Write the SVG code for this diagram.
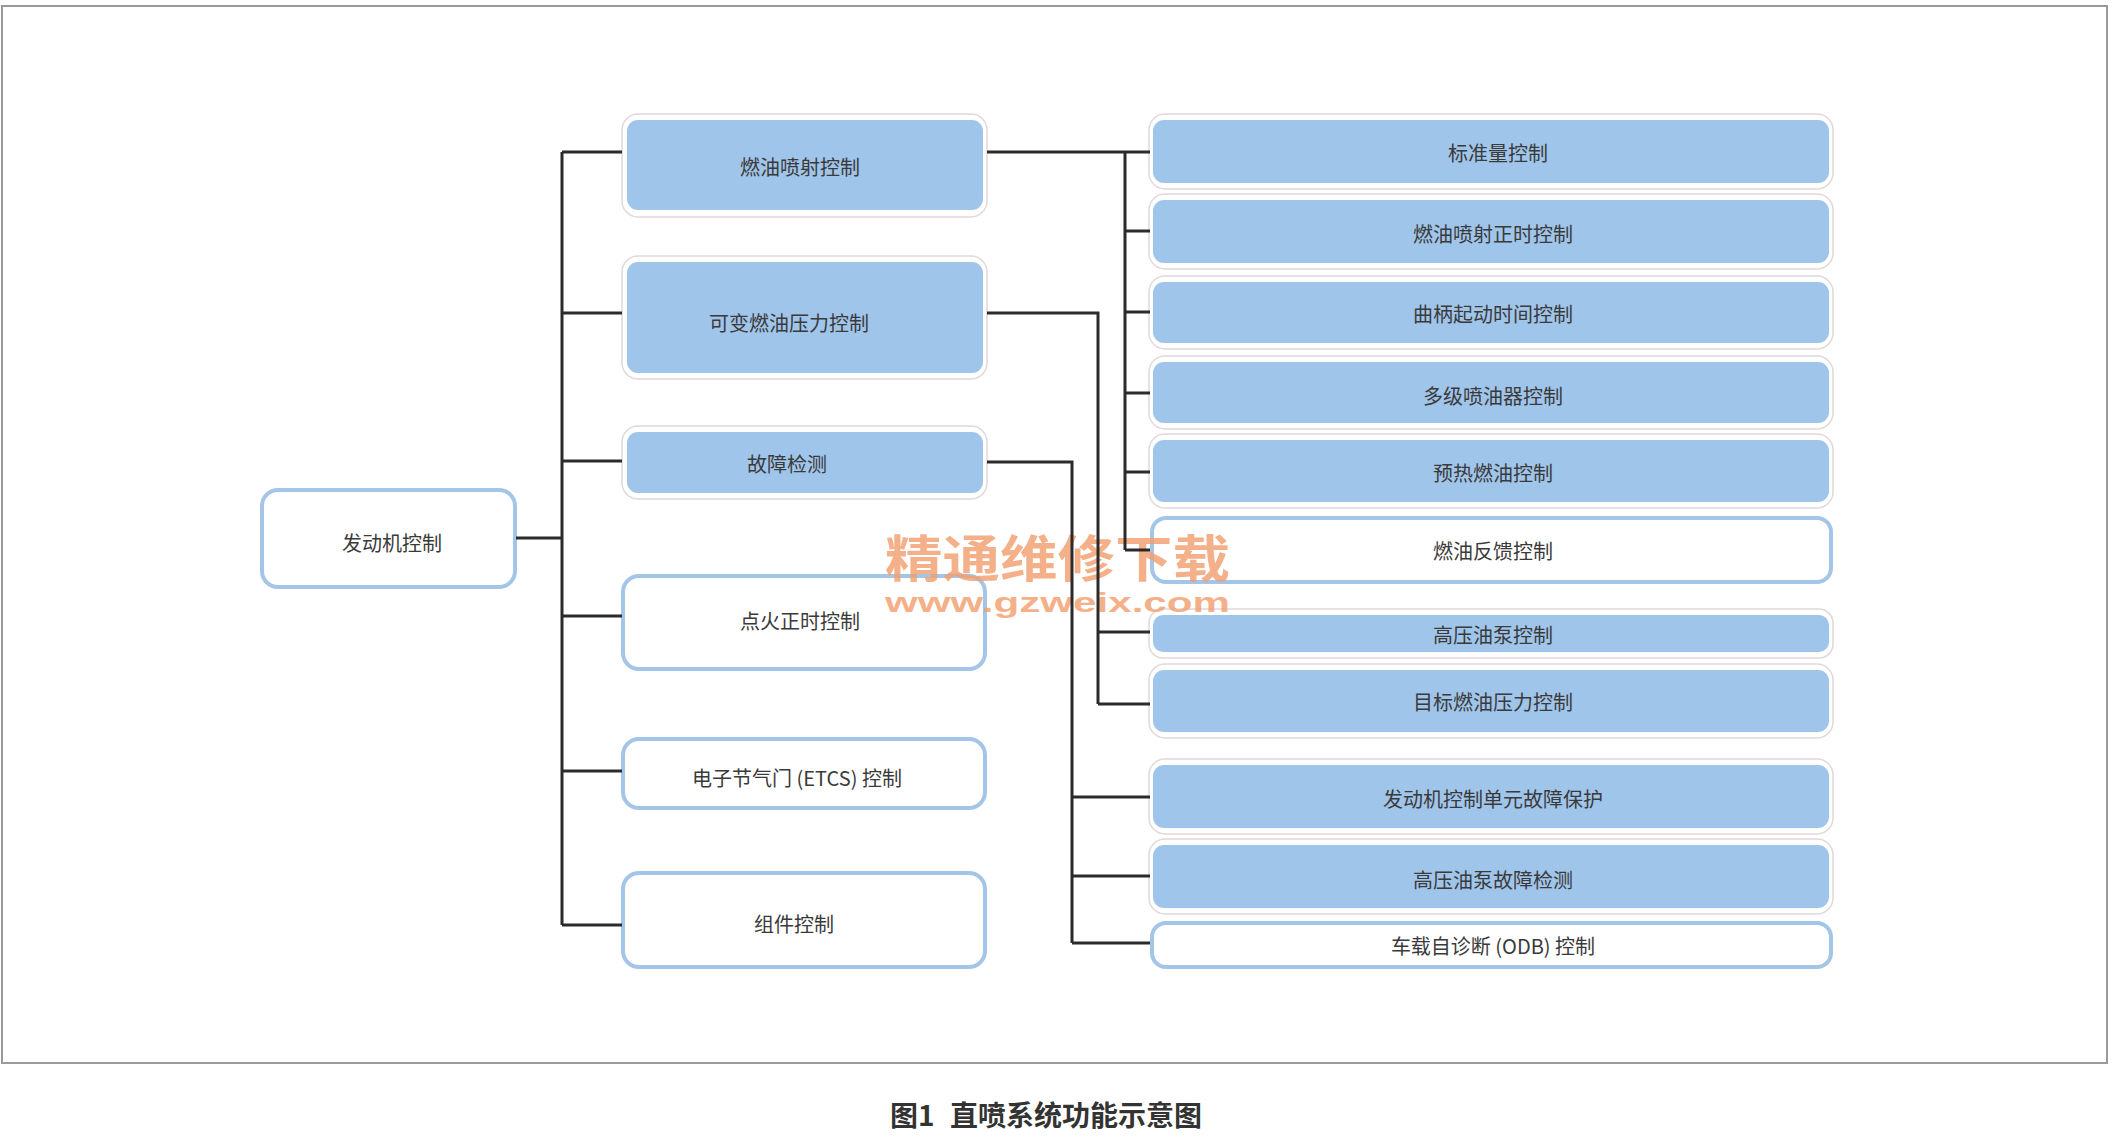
<svg xmlns="http://www.w3.org/2000/svg" width="2118" height="1146" viewBox="0 0 2118 1146">
<style>
.t{font-family:"Noto Sans CJK SC","Noto Sans",sans-serif;font-size:20px;fill:#3a3a3a;text-anchor:middle;dominant-baseline:central}
.halo{fill:#fff;stroke:#e2d8d8;stroke-width:1.5}
.blue{fill:#a0c5ea}
.white{fill:#fff;stroke:#a2c5e8;stroke-width:4}
.c{fill:none;stroke:#2b2b2b;stroke-width:3}
.wm{font-family:"Noto Sans CJK SC",sans-serif;font-weight:bold;fill:#f2a070;opacity:0.82;dominant-baseline:central}
.wm2{font-family:"Liberation Sans",Arial,sans-serif;font-weight:bold;fill:#f2a070;opacity:0.82;dominant-baseline:central}
.cap{font-family:"Noto Sans CJK SC",sans-serif;font-weight:bold;font-size:28px;fill:#333;dominant-baseline:central}
</style>
<rect x="0" y="0" width="2118" height="1146" fill="#fff"/>
<rect x="2" y="6" width="2105" height="1057" fill="none" stroke="#9a9a9a" stroke-width="2"/>

<g id="n-engine">
<rect class="white" x="262" y="490" width="253" height="97" rx="16"/>
<text class="t" x="392" y="542">发动机控制</text>
</g>

<g id="n-fuelinj">
<rect class="halo" x="622" y="114" width="365" height="103" rx="16"/>
<rect class="blue" x="627" y="120" width="356" height="90" rx="11"/>
<text class="t" x="800" y="166">燃油喷射控制</text>
</g>
<g id="n-varpress">
<rect class="halo" x="622" y="256" width="365" height="123" rx="16"/>
<rect class="blue" x="627" y="262" width="356" height="111" rx="11"/>
<text class="t" x="789" y="322">可变燃油压力控制</text>
</g>
<g id="n-fault">
<rect class="halo" x="622" y="426" width="365" height="73" rx="16"/>
<rect class="blue" x="627" y="432" width="356" height="61" rx="11"/>
<text class="t" x="787" y="463">故障检测</text>
</g>
<g id="n-ign">
<rect class="white" x="623" y="576" width="362" height="93" rx="16"/>
<text class="t" x="800" y="620">点火正时控制</text>
</g>
<g id="n-etcs">
<rect class="white" x="623" y="739" width="362" height="69" rx="16"/>
<text class="t" x="797" y="777">电子节气门 (ETCS) 控制</text>
</g>
<g id="n-comp">
<rect class="white" x="623" y="873" width="362" height="94" rx="16"/>
<text class="t" x="794" y="923">组件控制</text>
</g>

<g id="r-std">
<rect class="halo" x="1149" y="114" width="684" height="75" rx="16"/>
<rect class="blue" x="1153" y="120" width="676" height="63" rx="11"/>
<text class="t" x="1498" y="152">标准量控制</text>
</g>
<g id="r-injtiming">
<rect class="halo" x="1149" y="194" width="684" height="75" rx="16"/>
<rect class="blue" x="1153" y="200" width="676" height="63" rx="11"/>
<text class="t" x="1493" y="233">燃油喷射正时控制</text>
</g>
<g id="r-crank">
<rect class="halo" x="1149" y="276" width="684" height="73" rx="16"/>
<rect class="blue" x="1153" y="282" width="676" height="61" rx="11"/>
<text class="t" x="1493" y="313">曲柄起动时间控制</text>
</g>
<g id="r-multi">
<rect class="halo" x="1149" y="356" width="684" height="73" rx="16"/>
<rect class="blue" x="1153" y="362" width="676" height="61" rx="11"/>
<text class="t" x="1493" y="395">多级喷油器控制</text>
</g>
<g id="r-preheat">
<rect class="halo" x="1149" y="434" width="684" height="74" rx="16"/>
<rect class="blue" x="1153" y="440" width="676" height="62" rx="11"/>
<text class="t" x="1493" y="472">预热燃油控制</text>
</g>
<g id="r-feedback">
<rect class="white" x="1152" y="518" width="679" height="64" rx="14"/>
<text class="t" x="1493" y="550">燃油反馈控制</text>
</g>
<g id="r-hpp">
<rect class="halo" x="1149" y="609" width="684" height="49" rx="14"/>
<rect class="blue" x="1153" y="615" width="676" height="37" rx="10"/>
<text class="t" x="1493" y="634">高压油泵控制</text>
</g>
<g id="r-target">
<rect class="halo" x="1149" y="664" width="684" height="74" rx="16"/>
<rect class="blue" x="1153" y="670" width="676" height="62" rx="11"/>
<text class="t" x="1493" y="701">目标燃油压力控制</text>
</g>
<g id="r-ecu">
<rect class="halo" x="1149" y="759" width="684" height="75" rx="16"/>
<rect class="blue" x="1153" y="765" width="676" height="63" rx="11"/>
<text class="t" x="1493" y="798">发动机控制单元故障保护</text>
</g>
<g id="r-hppfault">
<rect class="halo" x="1149" y="839" width="684" height="75" rx="16"/>
<rect class="blue" x="1153" y="845" width="676" height="63" rx="11"/>
<text class="t" x="1493" y="879">高压油泵故障检测</text>
</g>
<g id="r-obd">
<rect class="white" x="1152" y="923" width="679" height="44" rx="14"/>
<text class="t" x="1493" y="945">车载自诊断 (ODB) 控制</text>
</g>

<g id="watermark">
<text class="wm" x="885" y="555" font-size="50" textLength="345" lengthAdjust="spacingAndGlyphs">精通维修下载</text>
<text class="wm2" x="885" y="603" font-size="27" textLength="345" lengthAdjust="spacingAndGlyphs">www.gzweix.com</text>
</g>

<g id="connectors">
<path class="c" d="M516 538H562M562 152V925M562 152H622M562 313H622M562 461H622M562 616H622M562 771H622M562 925H622"/>
<path class="c" d="M987 152H1150M1125 152V550M1125 231H1150M1125 312H1150M1125 393H1150M1125 472H1150M1125 550H1150"/>
<path class="c" d="M987 313H1098V704M1098 632H1150M1098 704H1150"/>
<path class="c" d="M987 462H1072V943M1072 797H1150M1072 876H1150M1072 943H1150"/>
</g>

<g id="caption">
<text class="cap" x="890" y="1114">图1</text>
<text class="cap" x="950" y="1114">直喷系统功能示意图</text>
</g>
</svg>
